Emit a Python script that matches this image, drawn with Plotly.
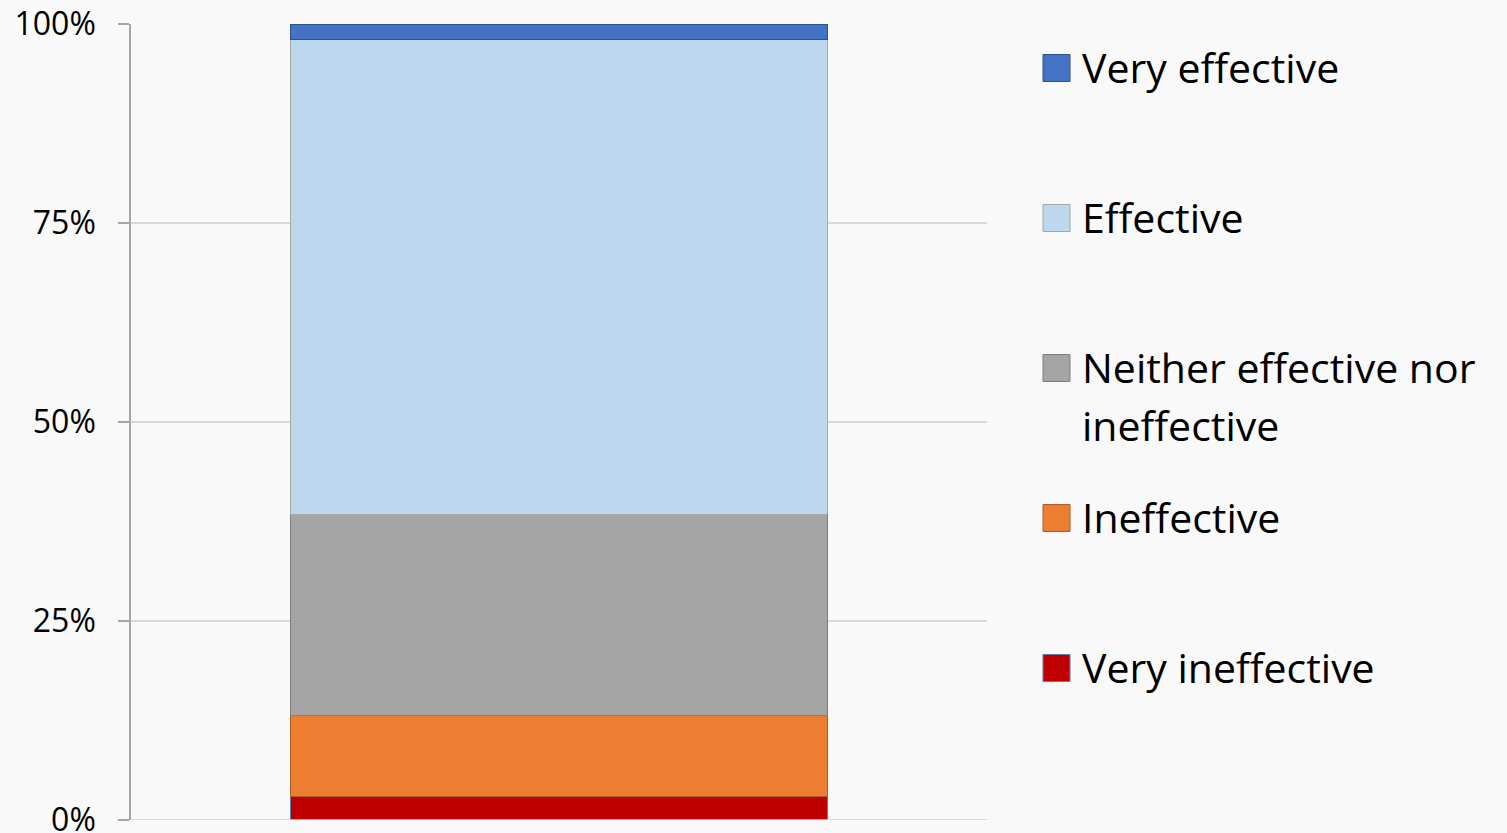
import plotly.graph_objects as go

# ---- data ----
category = [""]
series_names = ["Very ineffective", "Ineffective", "Neither effective nor<br>ineffective",
                "Effective", "Very effective"]
series_values = [2.9, 10.2, 25.3, 59.6, 2.0]
series_colors = ["#c00000", "#ed7d31", "#a5a5a5", "#bdd7ee", "#4472c4"]
series_edges = ["#5b7fae", "#b05e22", "#7f7f7f", "#a6a6a6", "#2f528f"]
tick_values = [0, 25, 50, 75, 100]
tick_labels = ["0%", "25%", "50%", "75%", "100%"]

W, H = 1507, 833
L, R, T, B = 131, 987, 24, 820
FONT = "'Open Sans', Lato, sans-serif"

fig = go.Figure()
for name, val, col, edge in zip(series_names, series_values, series_colors, series_edges):
    fig.add_trace(go.Bar(
        x=category, y=[val], name=name.replace("<br>", " "),
        marker=dict(color=col, line=dict(color=edge, width=1)),
        showlegend=False, hoverinfo="name+y",
    ))

fig.update_layout(
    width=W, height=H,
    barmode="stack", bargap=0.372,
    paper_bgcolor="#f9f9f9", plot_bgcolor="#f9f9f9",
    margin=dict(l=L, r=W - R, t=T, b=H - B, autoexpand=False),
    font=dict(family=FONT, color="#000000"),
    xaxis=dict(showticklabels=False, showgrid=False, zeroline=False,
               showline=False, ticks="", range=[-0.5, 0.5], fixedrange=True),
    yaxis=dict(range=[0, 100], tickvals=tick_values, ticktext=tick_labels,
               tickfont=dict(size=32, family=FONT, color="#000000"),
               showgrid=True, gridcolor="#d9d9d9", gridwidth=1.5,
               zeroline=False, showline=True, linecolor="#a6a6a6", linewidth=1.5,
               ticks="outside", ticklen=11, tickcolor="#a6a6a6", tickwidth=1.5,
               ticklabelstandoff=16, ticklabeloverflow="allow", fixedrange=True),
)

# bottom axis line (category axis)
fig.add_shape(type="line", xref="paper", yref="y", x0=0, x1=1, y0=0, y1=0,
              line=dict(color="#d0d0d0", width=1.5), layer="above")

# ---- legend drawn manually (top to bottom: reverse stacking order) ----
def px_x(px):
    return (px - L) / (R - L)

def px_y(py):
    return (B - py) / (B - T)

legend_centers = [68, 218, 368, 518, 668]
sq = 27
for i, idx in enumerate(reversed(range(len(series_names)))):
    cy = legend_centers[i]
    fig.add_shape(type="rect", xref="paper", yref="paper",
                  x0=px_x(1043), x1=px_x(1043 + sq),
                  y0=px_y(cy + sq / 2), y1=px_y(cy - sq / 2),
                  fillcolor=series_colors[idx],
                  line=dict(color=series_edges[idx], width=1))
    for j, line_txt in enumerate(series_names[idx].split("<br>")):
        fig.add_annotation(xref="paper", yref="paper",
                           x=px_x(1080), y=px_y(cy - 1 + j * 58),
                           xanchor="left", yanchor="middle",
                           text=line_txt, showarrow=False,
                           font=dict(size=41, family=FONT, color="#000000"))

fig.write_html("out.html", config={"displayModeBar": False},
               post_script="document.body.style.margin='0';")
